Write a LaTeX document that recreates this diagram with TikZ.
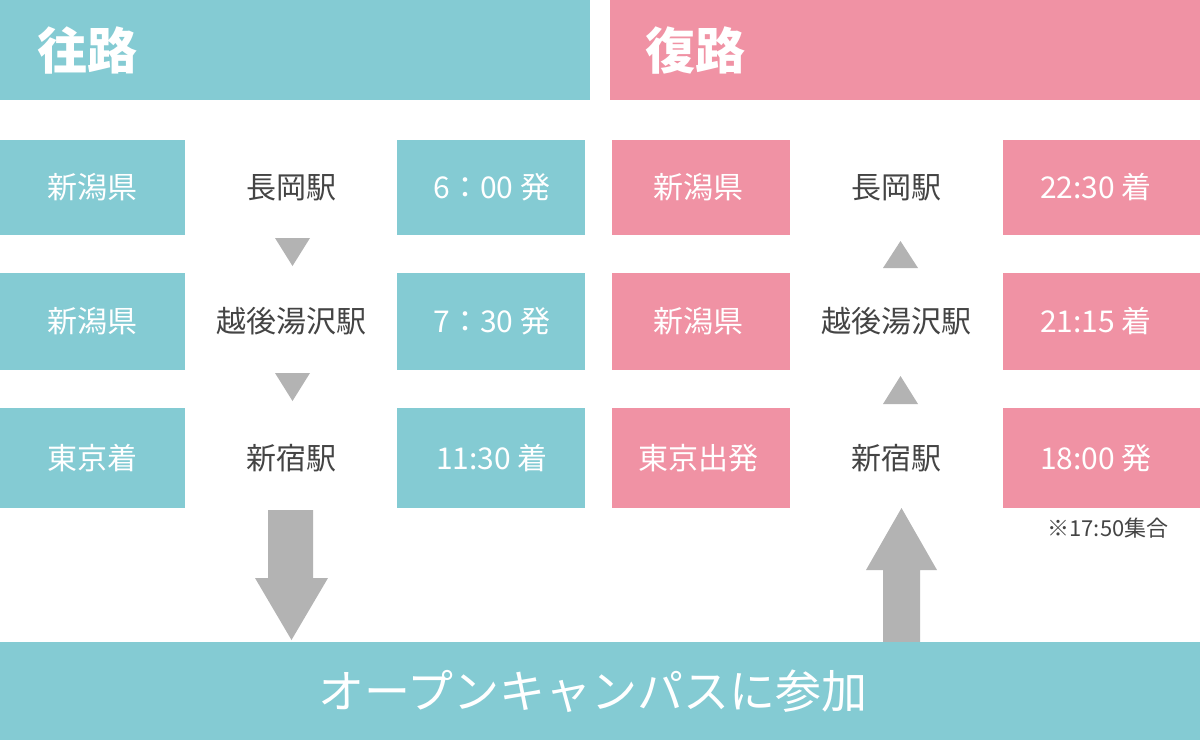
\documentclass[tikz,border=0pt]{standalone}
\usepackage{fontspec}
\setmainfont{Noto Sans CJK JP}
\definecolor{teal}{HTML}{84CBD3}
\definecolor{pink}{HTML}{F092A4}
\definecolor{gr}{HTML}{B3B3B3}
\definecolor{dk}{HTML}{444444}
\begin{document}
\begin{tikzpicture}[x=0.5pt,y=-0.5pt,
 lbl/.style={text=white,font=\fontsize{15}{18}\selectfont},
 box/.style={fill=white,text=dk,font=\fontsize{15}{18}\selectfont},
 hdr/.style={text=white,font=\fontsize{25}{30}\selectfont\bfseries,anchor=west}]
\useasboundingbox (0,0) rectangle (1200,740);
% headers
\fill[teal] (0,0) rectangle (590,100);
\fill[pink] (610,0) rectangle (1200,100);
\node[hdr] (h1) at (30,50) {往路};
\node[hdr] (h2) at (638,50) {復路};
% rows
\foreach \ya/\yb/\l/\s/\t [count=\i] in {140/235/新潟県/長岡駅/6：00 発, 273/370/新潟県/越後湯沢駅/7：30 発, 408/508/東京着/新宿駅/11:30 着}{
 \fill[teal] (0,\ya) rectangle (585,\yb);
 \fill[white] (185,\ya) rectangle (397,\yb);
 \node[lbl] (l\i) at (92,{(\ya+\yb)/2}) {\l};
 \node[text=dk,font=\fontsize{15}{18}\selectfont] (s\i) at (291,{(\ya+\yb)/2}) {\s};
 \node[lbl] (t\i) at (492,{(\ya+\yb)/2}) {\t};
}
\foreach \ya/\yb/\l/\s/\t [count=\i] in {140/235/新潟県/長岡駅/22:30 着, 273/370/新潟県/越後湯沢駅/21:15 着, 408/508/東京出発/新宿駅/18:00 発}{
 \fill[pink] (612,\ya) rectangle (1200,\yb);
 \fill[white] (790,\ya) rectangle (1003,\yb);
 \node[lbl] (rl\i) at (698,{(\ya+\yb)/2}) {\l};
 \node[text=dk,font=\fontsize{15}{18}\selectfont] (rs\i) at (896,{(\ya+\yb)/2}) {\s};
 \node[lbl] (rt\i) at (1096,{(\ya+\yb)/2}) {\t};
}
% small triangles
\fill[gr] (275,238) -- (310,238) -- (292.5,266) -- cycle;
\fill[gr] (275,373) -- (310,373) -- (292.5,401) -- cycle;
\fill[gr] (883,268) -- (918,268) -- (900.5,241) -- cycle;
\fill[gr] (883,404) -- (918,404) -- (900.5,376) -- cycle;
% big arrows
\fill[gr] (268,510) -- (313,510) -- (313,578) -- (328,578) -- (291.5,640) -- (255,578) -- (268,578) -- cycle;
\fill[gr] (883,642) -- (920,642) -- (920,570) -- (937,570) -- (901.5,508) -- (866,570) -- (883,570) -- cycle;
\node[text=dk,font=\fontsize{11}{13}\selectfont] (note) at (1108,528) {※17:50集合};
% bottom
\fill[teal] (0,642) rectangle (1200,740);
\node[text=white,font=\fontsize{23}{28}\selectfont] (b) at (593,691) {オープンキャンパスに参加};
\end{tikzpicture}
\end{document}
